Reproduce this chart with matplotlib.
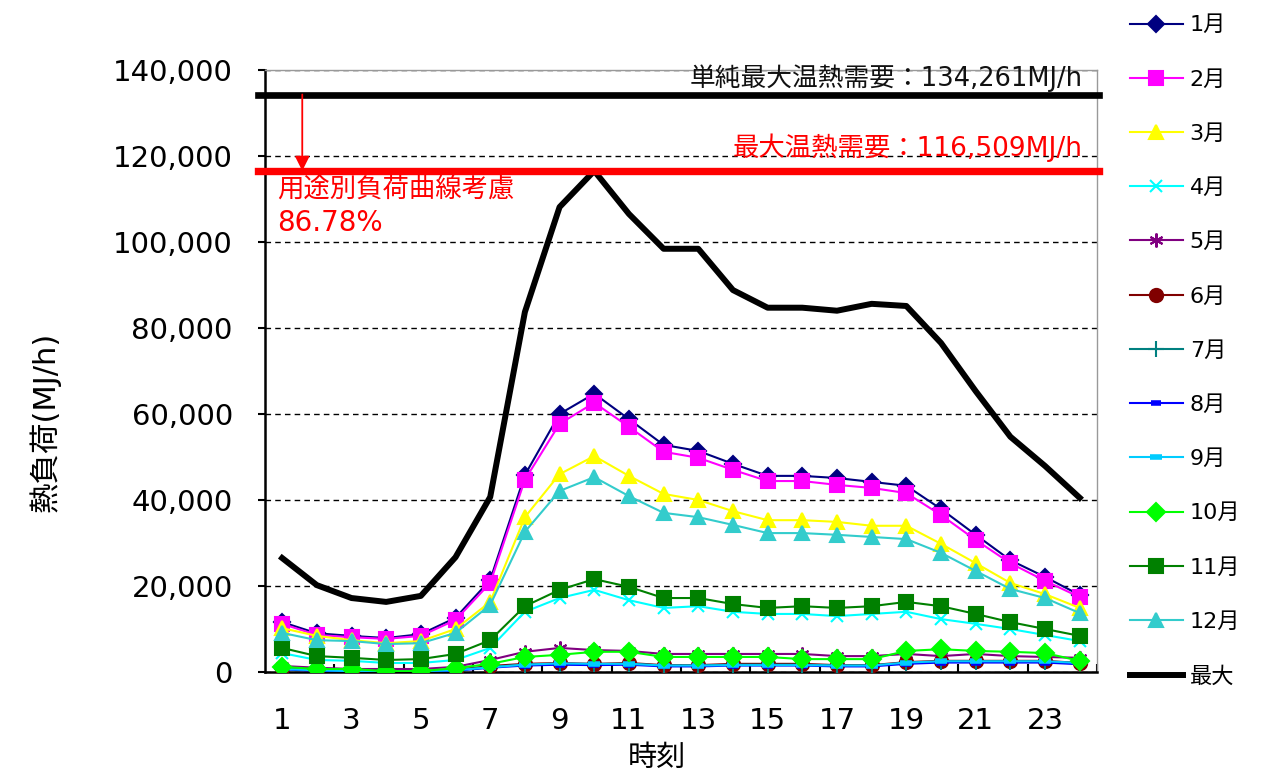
import matplotlib
matplotlib.use("Agg")
import matplotlib.pyplot as plt
import numpy as np

plt.rcParams['font.family'] = ['DejaVu Sans', 'Noto Sans CJK JP']

hours = list(range(1, 25))

# heat load by month (MJ/h)
jan = [11600, 9000, 8400, 7900, 8800, 12600, 21400, 45800, 60000, 64700, 58800, 52800,
       51400, 48400, 45600, 45600, 45100, 44200, 43300, 37900, 31900, 26000, 22100, 17900]
feb = [11200, 8600, 8100, 7700, 8400, 12100, 20700, 44700, 57700, 62600, 57000, 51200,
       49800, 47000, 44400, 44400, 43500, 42800, 41600, 36500, 30700, 25300, 21200, 17400]
mar = [10200, 8400, 7400, 6700, 7200, 10000, 16300, 36000, 46000, 50200, 45600, 41400,
       40000, 37400, 35300, 35300, 34900, 34000, 34000, 29800, 25300, 20700, 18100, 14900]
apr = [4400, 2800, 2600, 2100, 2100, 2800, 5600, 14000, 17200, 19100, 16700, 14900,
       15300, 14000, 13500, 13500, 13000, 13500, 14000, 12300, 11200, 10000, 8600, 7200]
may = [1400, 1000, 700, 700, 700, 1200, 2800, 4700, 5600, 5100, 4900, 4200,
       4200, 4200, 4200, 4200, 3700, 3700, 4200, 3700, 4200, 3700, 3500, 3300]
jun = [900, 500, 200, 200, 200, 500, 1400, 1900, 2100, 1900, 2100, 1600,
       1600, 1900, 1900, 1900, 1600, 1600, 2300, 2600, 2600, 2600, 2600, 2100]
jul = [800, 400, 200, 200, 200, 400, 1200, 1700, 1900, 1800, 1900, 1500,
       1500, 1700, 1700, 1700, 1500, 1500, 2100, 2400, 2400, 2400, 2400, 2000]
aug = [600, 300, 100, 100, 100, 300, 1000, 1500, 1700, 1600, 1700, 1300,
       1300, 1500, 1500, 1500, 1300, 1300, 1900, 2200, 2200, 2200, 2200, 1800]
sep = [700, 400, 200, 200, 200, 400, 1100, 1700, 2000, 1900, 1900, 1500,
       1500, 1600, 1600, 1600, 1500, 1500, 2200, 2500, 2500, 2500, 2500, 2100]
oct_ = [1200, 700, 700, 200, 200, 900, 1900, 3500, 4000, 4700, 4700, 3500,
        3500, 3500, 3500, 3000, 3000, 3000, 4900, 5300, 4900, 4700, 4400, 2600]
nov = [5600, 3700, 3300, 2800, 3000, 4200, 7400, 15300, 19100, 21600, 19800, 17200,
       17200, 15800, 14900, 15300, 14900, 15300, 16300, 15300, 13500, 11600, 10000, 8400]
dec = [9100, 7400, 7200, 6500, 6700, 9100, 15600, 32600, 42100, 45300, 40900, 37000,
       36000, 34200, 32300, 32300, 31900, 31400, 30900, 27700, 23500, 19300, 17200, 13700]
peak = [26500, 20200, 17200, 16300, 17700, 26700, 40700, 83700, 108100, 116509, 106500, 98400,
        98400, 88800, 84700, 84700, 84000, 85600, 85100, 76500, 65300, 54700, 47900, 40500]

simple_max = 134261
design_max = 116509
ratio = 86.78

months = [
    ("1月", jan, "#000080", "D", 8),
    ("2月", feb, "#FF00FF", "s", 9.5),
    ("3月", mar, "#FFFF00", "^", 10),
    ("4月", apr, "#00FFFF", "x", 9),
    ("5月", may, "#800080", (6, 2, 0), 10),
    ("6月", jun, "#800000", "o", 9.5),
    ("7月", jul, "#008080", "+", 11),
    ("8月", aug, "#0000FF", "_", 7),
    ("9月", sep, "#00CCFF", "_", 8),
    ("10月", oct_, "#00FF00", "D", 9),
    ("11月", nov, "#008000", "s", 9.5),
    ("12月", dec, "#33CCCC", "^", 10),
]

fig = plt.figure(figsize=(12.61, 7.76), dpi=100)
ax = fig.add_axes([0.210, 0.134, 0.660, 0.776])

for label, vals, col, mk, ms in months:
    mew = 1.5
    if mk == "_":
        mew = 4
    ax.plot(hours, vals, color=col, lw=1.5, marker=mk, markersize=ms,
            markerfacecolor=col, markeredgecolor=col, markeredgewidth=mew,
            label=label, zorder=3)
ax.plot(hours, peak, color="black", lw=4.3, label="最大", zorder=4)

# reference lines for the maximum demands
ax.plot([0.3, 24.55], [simple_max, simple_max], color="black", lw=4.8,
        clip_on=False, zorder=5)
ax.plot([0.3, 24.55], [design_max, design_max], color="#FF0000", lw=5.3,
        clip_on=False, zorder=5)
ax.annotate("", xy=(1.58, design_max), xytext=(1.58, simple_max),
            arrowprops=dict(arrowstyle="-|>", color="#FF0000", lw=1.3,
                            mutation_scale=22, shrinkA=0, shrinkB=0), zorder=6)

ax.text(24.1, 138000, "単純最大温熱需要：{:,}MJ/h".format(simple_max),
        ha="right", va="center", fontsize=18.5, color="#111111", zorder=6)
ax.text(24.1, 121900, "最大温熱需要：{:,}MJ/h".format(design_max),
        ha="right", va="center", fontsize=19, color="#FF0000", zorder=6)
ax.text(0.86, 112100, "用途別負荷曲線考慮", ha="left", va="center",
        fontsize=19, color="#FF0000", zorder=6)
ax.text(0.86, 104400, "{:.2f}%".format(ratio), ha="left", va="center",
        fontsize=20, color="#FF0000", zorder=6)

ax.set_xlim(0.5, 24.5)
ax.set_ylim(0, 140000)
ax.set_yticks(np.arange(0, 140001, 20000))
ax.set_yticklabels(["{:,}".format(v) for v in range(0, 140001, 20000)], fontsize=21)
ax.set_xticks(range(1, 25, 2))
ax.set_xticklabels([str(h) for h in range(1, 25, 2)], fontsize=21)
ax.set_xticks(np.arange(2.5, 24.6, 2), minor=True)
ax.tick_params(axis="x", which="major", length=0, pad=25)
ax.tick_params(axis="x", which="minor", direction="in", length=6, width=1.5)
ax.tick_params(axis="y", direction="out", length=5, width=1.5, pad=18)

ax.yaxis.grid(True, linestyle=(0, (4, 3)), color="black", lw=1)
ax.set_axisbelow(True)
for s in ["top", "right"]:
    ax.spines[s].set_color("#999999")
    ax.spines[s].set_linewidth(1)
for s in ["left", "bottom"]:
    ax.spines[s].set_color("black")
    ax.spines[s].set_linewidth(1.8)

fig.text(657 / 1261, 1 - 758 / 776, "時刻", ha="center", va="center", fontsize=21)
fig.text(45 / 1261, 1 - 422 / 776, "熱負荷(MJ/h)", ha="center", va="center",
         rotation=90, fontsize=22)

leg = fig.legend(loc="upper left", bbox_to_anchor=(0.880, 1.006), frameon=False,
                 fontsize=16, labelspacing=1.54, handlelength=2.4, handletextpad=0.3)

fig.savefig("out.png", dpi=100)
